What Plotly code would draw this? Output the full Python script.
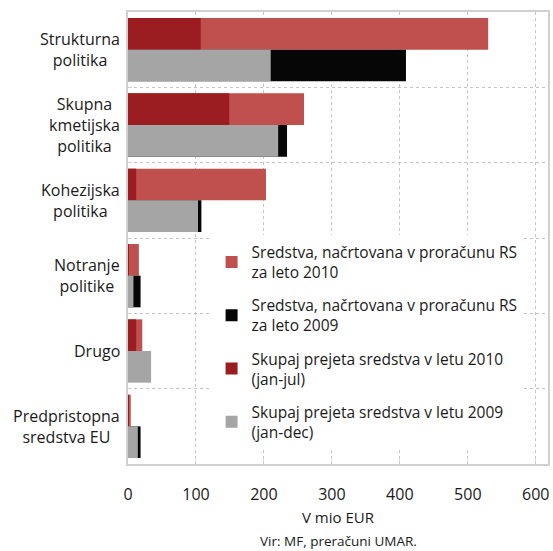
import plotly.graph_objects as go

# Categories (top to bottom)
categories = [
    "Strukturna<br>politika",
    "Skupna<br>kmetijska<br>politika",
    "Kohezijska<br>politika",
    "Notranje<br>politike",
    "Drugo",
    "Predpristopna<br>sredstva EU",
]

# Values in mio EUR
planned_2010 = [530, 259, 203, 16, 21, 4]
planned_2009 = [409, 234, 108, 18.5, 0, 18.5]
received_2010 = [107, 149, 12, 1, 12, 1]
received_2009 = [210, 221, 103, 8, 34, 14.5]

x_ticks = [0, 100, 200, 300, 400, 500, 600]

names = {
    "p10": "Sredstva, načrtovana v proračunu RS<br>za leto 2010",
    "p09": "Sredstva, načrtovana v proračunu RS<br>za leto 2009",
    "r10": "Skupaj prejeta sredstva v letu 2010<br>(jan-jul)",
    "r09": "Skupaj prejeta sredstva v letu 2009<br>(jan-dec)",
}

C_P10 = "#C0504D"
C_P09 = "#060606"
C_R10 = "#9B1C21"
C_R09 = "#A5A5A5"

FONT = "Open Sans"
TXT = "#1a1a1a"
idx = list(range(len(categories)))

# planned bars first, received bars drawn over them in the same slot
fig = go.Figure()
fig.add_bar(y=idx, x=planned_2010, orientation="h", name=names["p10"], legendgroup="p10",
            marker=dict(color=C_P10, line=dict(width=0)), offsetgroup="a")
fig.add_bar(y=idx, x=planned_2009, orientation="h", name=names["p09"], legendgroup="p09",
            marker=dict(color=C_P09, line=dict(width=0)), offsetgroup="b")
fig.add_bar(y=idx, x=received_2010, orientation="h", name=names["r10"], legendgroup="r10",
            marker=dict(color=C_R10, line=dict(width=0)), offsetgroup="a")
fig.add_bar(y=idx, x=received_2009, orientation="h", name=names["r09"], legendgroup="r09",
            marker=dict(color=C_R09, line=dict(width=0)), offsetgroup="b")

# Category labels, centred lines in a right-aligned block
for i, cat in enumerate(categories):
    fig.add_annotation(x=0, xref="paper", y=i, yref="y", text=cat, showarrow=False,
                       xanchor="right", align="center", xshift=-6,
                       font=dict(family=FONT, size=16, color=TXT))

fig.add_annotation(x=0.5, xref="paper", y=-(541 - 464) / 452, yref="paper",
                   yanchor="middle", text="Vir: MF, preračuni UMAR.", showarrow=False,
                   font=dict(family=FONT, size=13.5, color=TXT))

fig.update_layout(
    width=553, height=551,
    margin=dict(l=128, r=3, t=12, b=87),
    paper_bgcolor="white", plot_bgcolor="white",
    barmode="group", bargap=0.16, bargroupgap=0,
    font=dict(family=FONT, size=15, color=TXT),
    showlegend=True,
    legend=dict(x=0.199, y=0.506, xanchor="left", yanchor="top",
                bgcolor="white", font=dict(family=FONT, size=15.5, color=TXT),
                itemwidth=30, tracegroupgap=10, traceorder="grouped"),
    xaxis=dict(range=[0, 618], tickvals=x_ticks, showgrid=True,
               gridcolor="#C4C4C4", griddash="dot", gridwidth=1,
               showline=True, linecolor="#D0D0D0", linewidth=1.5, mirror=True,
               ticks="inside", ticklen=4, tickcolor="#D0D0D0",
               ticklabelstandoff=15, zeroline=False,
               tickfont=dict(family=FONT, size=16),
               title=dict(text="V mio EUR", standoff=9, font=dict(family=FONT, size=15))),
    yaxis=dict(range=[len(categories) - 0.5, -0.5],
               tickvals=[i + 0.5 for i in idx[:-1]], showticklabels=False,
               showgrid=True, gridcolor="#C4C4C4", griddash="dot", gridwidth=1,
               showline=True, linecolor="#D0D0D0", linewidth=1.5, mirror=True,
               ticks="inside", ticklen=4, tickcolor="#D0D0D0", zeroline=False),
)

fig.write_html("out.html")
